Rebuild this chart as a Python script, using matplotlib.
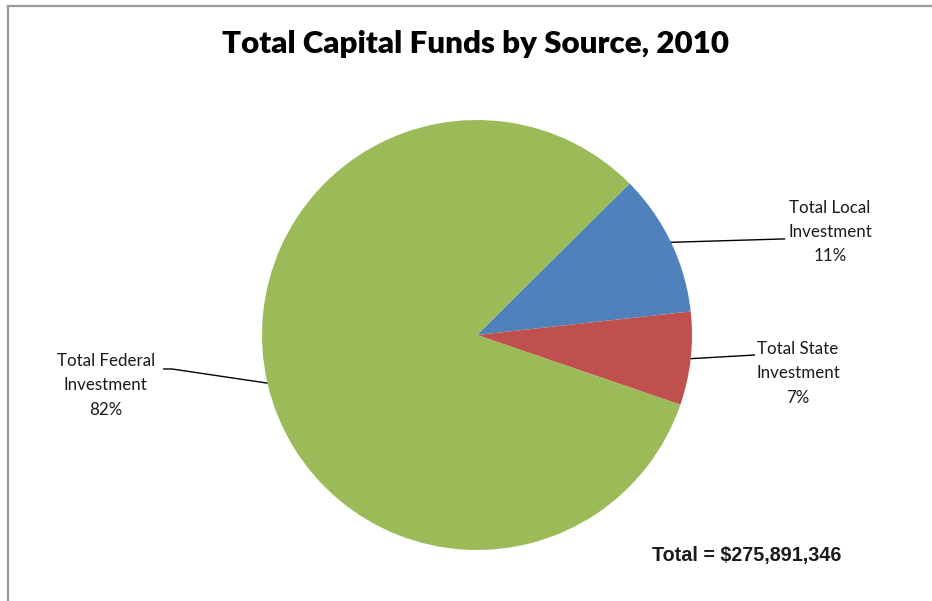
import numpy as np
import matplotlib
matplotlib.use("Agg")
import matplotlib.pyplot as plt
from matplotlib.lines import Line2D

# Capital funding shares (percent of total), 2010
sources = ["Total Local\nInvestment", "Total State\nInvestment", "Total Federal\nInvestment"]
shares = [10.7, 7.0, 82.3]
colors = ["#4F81BD", "#C0504D", "#9BBB59"]
total_funds = 275891346

W, H = 932, 601
fig = plt.figure(figsize=(W / 100, H / 100), dpi=100)
fig.patch.set_facecolor("white")

# chart frame (left and top edges visible)
fig.add_artist(Line2D([7.5 / W, 7.5 / W], [0, 1 - 6 / H], transform=fig.transFigure,
                      color="#9a9a9a", lw=1.6))
fig.add_artist(Line2D([7.5 / W, 1], [1 - 6 / H, 1 - 6 / H], transform=fig.transFigure,
                      color="#9a9a9a", lw=1.6))

cx, cy, r = 477, 335, 215
ax = fig.add_axes([(cx - r) / W, (H - cy - r) / H, 2 * r / W, 2 * r / H])
ax.set_xlim(-1, 1)
ax.set_ylim(-1, 1)
ax.set_aspect("equal")
ax.axis("off")

wedges, _ = ax.pie(shares, colors=colors, startangle=44.8, counterclock=False,
                   radius=1, wedgeprops=dict(linewidth=0), frame=False)
ax.set_xlim(-1, 1)
ax.set_ylim(-1, 1)

label_font = dict(family=["Lato", "DejaVu Sans"], fontsize=12.2, color="#1a1a1a")

# leader-line end points and label centres (axes data units)
leader_paths = [
    [(1.433, 0.447)],
    [(1.293, -0.093)],
    [(-1.419, -0.158), (-1.460, -0.158)],
]
label_pos = [(1.642, 0.479), (1.493, -0.177), (-1.726, -0.233)]

for w, name, val, path, lp in zip(wedges, sources, shares, leader_paths, label_pos):
    mid = np.deg2rad((w.theta1 + w.theta2) / 2)
    x0, y0 = np.cos(mid), np.sin(mid)
    xs = [x0] + [p[0] for p in path]
    ys = [y0] + [p[1] for p in path]
    ax.plot(xs, ys, color="black", lw=1.0, clip_on=False, solid_capstyle="butt")
    ax.text(lp[0], lp[1], f"{name}\n{val:.0f}%", ha="center", va="center",
            linespacing=1.65, clip_on=False, **label_font)

fig.text(476 / W, 1 - 44 / H, "Total Capital Funds by Source, 2010", ha="center", va="center",
         family=["Lato", "DejaVu Sans"], fontweight="heavy", fontsize=22.5, color="black")

fig.text(747 / W, 1 - 556 / H, f"Total = ${total_funds:,}", ha="center", va="center",
         family=["Liberation Sans Narrow", "Liberation Sans", "DejaVu Sans"],
         fontweight="bold", fontsize=14.2, color="#1a1a1a")

fig.savefig("out.png", dpi=100, facecolor="white")
